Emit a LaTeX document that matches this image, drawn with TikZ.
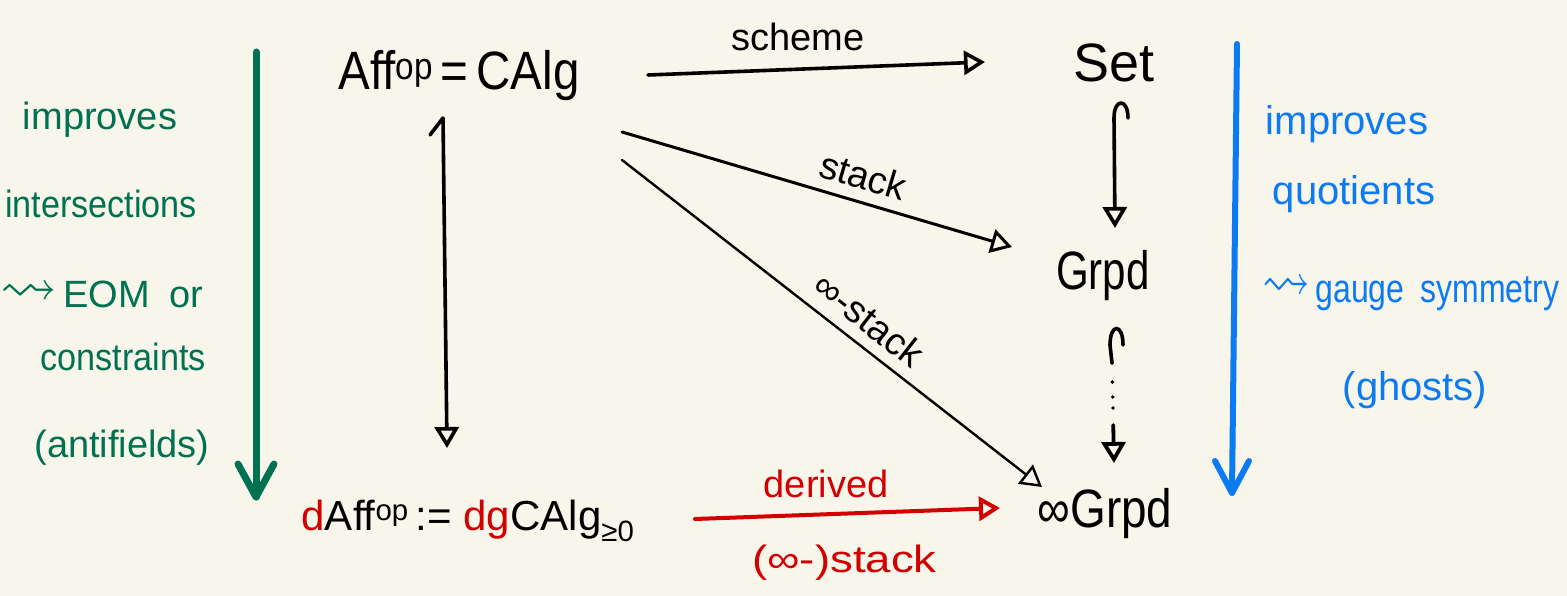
\documentclass[tikz,border=0pt]{standalone}
\usepackage{amssymb}
\usepackage{fontspec}
\setmainfont{Liberation Sans}
\usetikzlibrary{arrows.meta}
\definecolor{paper}{HTML}{F8F5EA}
\definecolor{inkgreen}{HTML}{007252}
\definecolor{inkblue}{HTML}{0C7BF2}
\definecolor{inkred}{HTML}{D20000}
\newcommand{\squig}{\raisebox{2pt}{\scalebox{1.5}{$\rightsquigarrow$}}}
\begin{document}
\begin{tikzpicture}[x=1pt,y=-1pt,
  obj/.style={inner sep=0pt, anchor=base, font=\fontsize{54}{60}\selectfont},
  lbl/.style={inner sep=0pt, font=\fontsize{38}{44}\selectfont},
  note/.style={inner sep=0pt, anchor=base, font=\fontsize{38}{44}\selectfont},
  bnote/.style={note, text=inkblue, font=\fontsize{40}{46}\selectfont},
  gnote/.style={note, text=inkgreen},
  arr/.style={line width=3.6pt, line cap=round, line join=round,
              -{Triangle[open, length=21pt, width=24pt]}},
  bigarrow/.style={line width=7pt, line cap=round, line join=round}]

\fill[paper] (0,0) rectangle (1567,596);
\useasboundingbox (0,0) rectangle (1567,596);

% objects
\node[obj, xscale=.88] (aff) at (459,90) {Aff\textsuperscript{op}\,=\,CAlg};
\node[obj] (set) at (1114,82) {Set};
\node[obj, xscale=.78] (grpd) at (1103,290) {Grpd};
\node[obj, xscale=.85] (igrpd) at (1105,527) {∞Grpd};
\node[obj, font=\fontsize{42}{48}\selectfont] (daff) at (468,530)
  {\textcolor{inkred}{d}Aff\textsuperscript{op}\,:=\;\textcolor{inkred}{dg}CAlg\textsubscript{≥0}};

% maps out of affine schemes
\draw[arr] ([shift={(189,-15)}]aff.base)
  -- node[lbl, pos=.445, anchor=base, yshift=19pt] {scheme}
  ([shift={(-129,-20)}]set.base);
\draw[arr, line width=3pt] ([shift={(163,42)}]aff.base)
  -- node[lbl, pos=.6, sloped, above=11pt] {stack}
  ([shift={(-91,-43)}]grpd.base);
\draw[arr, line width=2.4pt] ([shift={(163,70)}]aff.base)
  -- node[lbl, pos=.55, sloped, above=11pt] {∞-stack}
  ([shift={(-63,-40)}]igrpd.base);
\draw[arr] ([shift={(-29,45)}]aff.base) -- ([shift={(-16,28)}]aff.base)
  -- ([shift={(-21,-82)}]daff.base);

% inclusions down the right column
\draw[arr] ([shift={(14,36)}]set.base)
  .. controls +(0,-20) and +(0,-20) .. ([shift={(0,36)}]set.base)
  -- ([shift={(12,-62)}]grpd.base);
\draw[line width=3.6pt, line cap=round] ([shift={(20,55)}]grpd.base)
  .. controls +(0,-22) and +(0,-22) .. ([shift={(7,55)}]grpd.base)
  -- ([shift={(9,73)}]grpd.base);
\draw[arr, line width=3.8pt,
      dash pattern=on 0pt off 19pt on 0pt off 15pt on 0pt off 11pt on 0pt off 17pt on 300pt]
  ([shift={(9,73)}]grpd.base) -- ([shift={(9,-64)}]igrpd.base);

% derived version
\draw[arr, inkred, line width=4pt] ([shift={(227,-11)}]daff.base)
  -- node[lbl, pos=.43, anchor=base, yshift=17pt] {derived}
     node[lbl, pos=.49, anchor=base, yshift=-59pt, xscale=1.2] {(∞-)stack}
  ([shift={(-105,-19)}]igrpd.base);

% left margin: intersections
\coordinate (gtop) at (256,52);
\coordinate (gtip) at (256,497);
\draw[bigarrow, inkgreen] (gtop) -- (gtip);
\draw[bigarrow, inkgreen] ([shift={(-18,-33)}]gtip) -- (gtip) -- ([shift={(18,-33)}]gtip);
\node[gnote] (g1) at (100,130) {improves};
\node[gnote, xscale=.9] (g2) at (101,218) {intersections};
\node[gnote, anchor=base west] (g3) at (0,307) {\squig\,EOM\enspace or};
\node[gnote, xscale=.9] (g4) at (123,370) {constraints};
\node[gnote] (g5) at (122,457) {(antifields)};

% right margin: quotients
\coordinate (btop) at (1237,44);
\coordinate (btip) at (1232,493);
\draw[bigarrow, inkblue, line width=6pt] (btop) -- (btip);
\draw[bigarrow, inkblue, line width=6pt] ([shift={(-17,-32)}]btip) -- (btip) -- ([shift={(17,-32)}]btip);
\node[bnote] (b1) at (1347,135) {improves};
\node[bnote] (b2) at (1354,205) {quotients};
\node[bnote, anchor=base west, xscale=.8] (b3) at (1262,302) {\squig\,gauge\enspace symmetry};
\node[bnote] (b4) at (1415,400) {(ghosts)};
\end{tikzpicture}
\end{document}
